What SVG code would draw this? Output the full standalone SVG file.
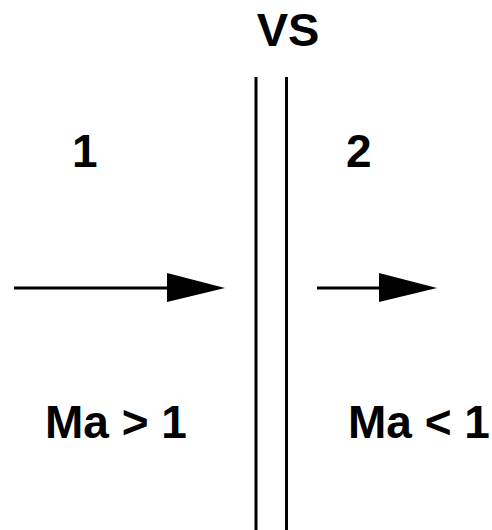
<svg xmlns="http://www.w3.org/2000/svg" width="492" height="530" viewBox="0 0 492 530">
<style>
text{font-family:"Liberation Sans",Arial,sans-serif;font-weight:bold;font-size:46px;fill:#000}
.ln{stroke:#000;stroke-width:3;fill:none}
</style>
<rect width="492" height="530" fill="#fff"/>
<g id="vs">
<text x="288" y="46" text-anchor="middle" style="font-size:47px">VS</text>
<line class="ln" x1="256" y1="77" x2="256" y2="530"/>
<line class="ln" x1="286.5" y1="77" x2="286.5" y2="530"/>
</g>
<g id="region1">
<text x="72" y="167">1</text>
<text x="45" y="438">Ma &gt; 1</text>
</g>
<g id="region2">
<text x="346" y="167">2</text>
<text x="348" y="438">Ma &lt; 1</text>
</g>
<g id="connectors">
<line class="ln" x1="14" y1="288" x2="170" y2="288"/>
<polygon points="167,273 225,288 167,302"/>
<line class="ln" x1="317" y1="288" x2="382" y2="288"/>
<polygon points="379,273 437,288 379,302"/>
</g>
</svg>
